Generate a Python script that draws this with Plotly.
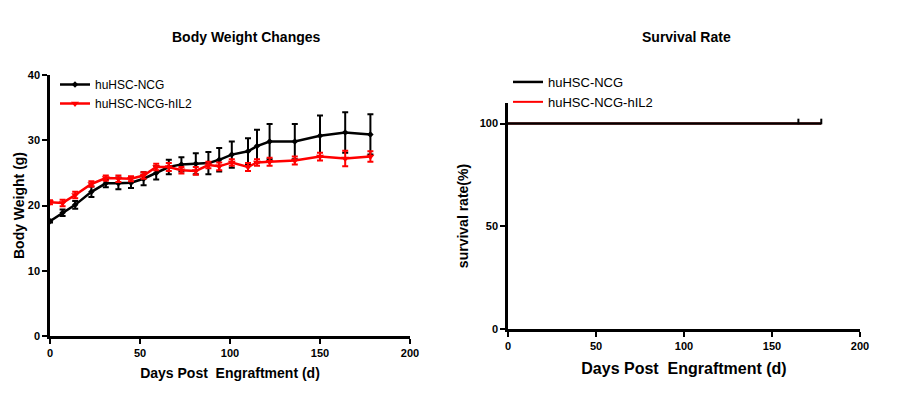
import plotly.graph_objects as go

days = [0, 7, 14, 23, 31, 38, 45, 52, 59, 66, 73, 81, 88, 94, 101, 110, 115, 122, 136, 150, 164, 178]
ncg_weight = [17.6, 18.9, 20.1, 22.1, 23.4, 23.4, 23.5, 24.1, 25.0, 25.9, 26.3, 26.4, 26.5, 27.0, 27.8, 28.3, 29.1, 29.8, 29.8, 30.7, 31.2, 30.9]
ncg_err = [0.2, 0.5, 0.6, 0.8, 0.6, 0.9, 0.8, 1.0, 1.0, 1.1, 1.1, 1.6, 1.7, 1.8, 2.0, 2.0, 2.5, 2.7, 2.7, 3.1, 3.1, 3.1]
il2_weight = [20.5, 20.4, 21.6, 23.3, 24.2, 24.1, 24.1, 24.6, 25.9, 25.9, 25.4, 25.3, 26.2, 26.0, 26.6, 25.9, 26.6, 26.7, 26.9, 27.5, 27.2, 27.5]
il2_err = [0.3, 0.5, 0.5, 0.4, 0.4, 0.5, 0.4, 0.5, 0.5, 0.6, 0.5, 0.6, 0.5, 0.6, 0.5, 0.6, 0.5, 0.6, 0.6, 0.6, 1.2, 0.8]

surv_days = [0, 165, 178]
ncg_surv = [100, 100, 100]
il2_surv = [100, 100, 100]
censor_days = [165, 178]
censor_vals = [101, 101]

FONT = "Liberation Sans"
W, H = 916, 402

def px(x):
    return x / W

def py(y):
    return 1 - y / H

fig = go.Figure()

# Body weight
fig.add_trace(go.Scatter(
    x=days, y=ncg_weight, name="huHSC-NCG", mode="lines+markers",
    line=dict(color="black", width=2.5),
    marker=dict(symbol="diamond", size=5, color="black"),
    error_y=dict(type="data", array=ncg_err, color="black", thickness=2, width=3),
    xaxis="x", yaxis="y", legend="legend"))
fig.add_trace(go.Scatter(
    x=days, y=il2_weight, name="huHSC-NCG-hIL2", mode="lines+markers",
    line=dict(color="#ff0000", width=2.5),
    marker=dict(symbol="triangle-down", size=7, color="#ff0000"),
    error_y=dict(type="data", array=il2_err, color="#ff0000", thickness=2, width=3),
    xaxis="x", yaxis="y", legend="legend"))

# Survival
fig.add_trace(go.Scatter(
    x=surv_days, y=il2_surv, name="huHSC-NCG-hIL2", mode="lines",
    line=dict(color="#ff0000", width=2),
    xaxis="x2", yaxis="y2", legend="legend2", legendrank=2))
fig.add_trace(go.Scatter(
    x=surv_days, y=ncg_surv, name="huHSC-NCG", mode="lines",
    line=dict(color="black", width=2.5),
    xaxis="x2", yaxis="y2", legend="legend2", legendrank=1))
fig.add_trace(go.Scatter(
    x=censor_days, y=censor_vals, mode="markers", showlegend=False,
    marker=dict(symbol="line-ns", size=4, line=dict(color="black", width=2)),
    xaxis="x2", yaxis="y2"))

axis_common = dict(
    showline=True, linecolor="black", linewidth=2.5, showgrid=False, zeroline=False,
    ticks="outside", ticklen=5, tickwidth=2, tickcolor="black", automargin=False,
    tickfont=dict(family=FONT, size=11, color="black", weight="bold"),
)

fig.update_layout(
    width=W, height=H, margin=dict(l=0, r=0, t=0, b=0, autoexpand=False),
    paper_bgcolor="white", plot_bgcolor="white",
    font=dict(family=FONT, color="black"),
    xaxis=dict(domain=[px(50), px(410)], range=[0, 200], tickvals=[0, 50, 100, 150, 200],
               anchor="y", **axis_common,
               title=dict(text="Days Post  Engraftment (d)", standoff=11,
                          font=dict(family=FONT, size=14, color="black", weight="bold"))),
    yaxis=dict(domain=[py(336), py(75)], range=[0, 40], tickvals=[0, 10, 20, 30, 40],
               anchor="x", **axis_common,
               title=dict(text="Body Weight (g)", standoff=0,
                          font=dict(family=FONT, size=14, color="black", weight="bold"))),
    xaxis2=dict(domain=[px(508), px(860)], range=[0, 200], tickvals=[0, 50, 100, 150, 200],
                anchor="y2", **axis_common,
                title=dict(text="Days Post  Engraftment (d)", standoff=12,
                           font=dict(family=FONT, size=16, color="black", weight="bold"))),
    yaxis2=dict(domain=[py(329), py(103)], range=[0, 110], tickvals=[0, 50, 100],
                anchor="x2", **axis_common,
                title=dict(text="survival rate(%)", standoff=8,
                           font=dict(family=FONT, size=14, color="black", weight="bold"))),
    legend=dict(x=px(55), y=py(70), xanchor="left", yanchor="top",
                bgcolor="rgba(0,0,0,0)", font=dict(family=FONT, size=12, color="black"),
                tracegroupgap=0, itemwidth=30),
    legend2=dict(x=px(508), y=py(67), xanchor="left", yanchor="top",
                 bgcolor="rgba(0,0,0,0)", font=dict(family=FONT, size=13, color="black"),
                 tracegroupgap=0, itemwidth=30),
    annotations=[
        dict(text="<b>Body Weight Changes</b>", x=px(246), y=py(37), xref="paper", yref="paper",
             showarrow=False, xanchor="center", yanchor="middle",
             font=dict(family=FONT, size=14, color="black")),
        dict(text="<b>Survival Rate</b>", x=px(686), y=py(37), xref="paper", yref="paper",
             showarrow=False, xanchor="center", yanchor="middle",
             font=dict(family=FONT, size=14, color="black")),
    ],
)

fig.write_html("out.html", post_script="document.body.style.margin='0';",
               config={"displayModeBar": False})
